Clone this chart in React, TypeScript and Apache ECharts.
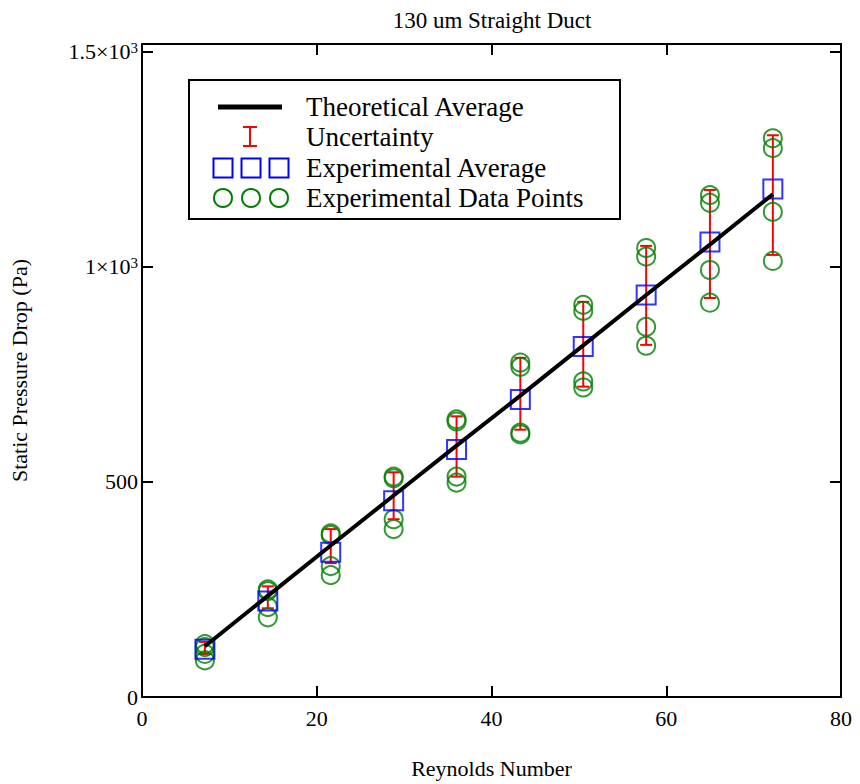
import React, { useEffect, useRef } from "react";
import * as echarts from "echarts";

const reynolds = [7.2, 14.4, 21.6, 28.8, 36.0, 43.3, 50.5, 57.7, 65.0, 72.2];
const theoretical = [118, 235, 352, 468, 584, 700, 817, 934, 1051, 1168];
const expAverage = [111, 223, 336, 456, 575, 691, 814, 934, 1057, 1180];
const uncLow = [100, 206, 311, 413, 512, 621, 721, 818, 927, 1027];
const uncHigh = [128, 257, 390, 522, 652, 788, 918, 1048, 1178, 1305];
const expPoint1 = [123, 250, 380, 512, 645, 777, 911, 1043, 1166, 1298];
const expPoint2 = [116, 246, 376, 508, 640, 767, 897, 1023, 1148, 1275];
const expPoint3 = [100, 209, 304, 413, 512, 614, 733, 860, 992, 1127];
const expPoint4 = [85, 185, 283, 390, 498, 610, 719, 816, 916, 1013];
const yTickLabels: Record<number, string> = {
  0: "{b|0}",
  500: "{b|500}",
  1000: "{b|1×10}{s|3}",
  1500: "{b|1.5×10}{s|3}",
};

const FONT = "'Liberation Serif', 'Times New Roman', serif";

export default function App() {
  const ref = useRef<HTMLDivElement>(null);
  useEffect(() => {
    if (!ref.current) return;
    const chart = echarts.init(ref.current, null, { renderer: "svg" });
    const scatterData: number[][] = [];
    [expPoint1, expPoint2, expPoint3, expPoint4].forEach((arr) =>
      arr.forEach((v, i) => scatterData.push([reynolds[i], v]))
    );
    const yLabel = (v: number) => yTickLabels[v] ?? "";
    const axisLine = () => ({ show: true, onZero: false, lineStyle: { color: "#000", width: 2 } });
    const tick = () => ({ show: true, inside: true, length: 11, lineStyle: { color: "#000", width: 2 } });
    const legendX = 189;
    const legendY = 80;
    const rows = [107, 137, 168, 198];
    chart.setOption({
      animation: false,
      backgroundColor: "#fff",
      textStyle: { fontFamily: FONT },
      title: {
        text: "130 um Straight Duct",
        left: 492,
        top: 9,
        padding: 0,
        textAlign: "center",
        textStyle: { fontFamily: FONT, fontSize: 23, fontWeight: "normal", color: "#000" },
      },
      grid: { left: 142, right: 19, top: 44, bottom: 86 },
      xAxis: [
        {
          type: "value",
          min: 0,
          max: 80,
          interval: 20,
          position: "bottom",
          name: "Reynolds Number",
          nameLocation: "middle",
          nameGap: 60,
          nameTextStyle: { fontFamily: FONT, fontSize: 22, color: "#000" },
          axisLine: axisLine(),
          axisTick: tick(),
          axisLabel: { margin: 10, fontFamily: FONT, fontSize: 22, color: "#000" },
          splitLine: { show: false },
        },
        {
          type: "value",
          min: 0,
          max: 80,
          interval: 20,
          position: "top",
          axisLine: axisLine(),
          axisTick: tick(),
          axisLabel: { show: false },
          splitLine: { show: false },
        },
      ],
      yAxis: [
        {
          type: "value",
          min: 0,
          max: 1517,
          interval: 500,
          position: "left",
          name: "Static Pressure Drop (Pa)",
          nameLocation: "middle",
          nameGap: 112,
          nameRotate: 90,
          nameTextStyle: { fontFamily: FONT, fontSize: 22, color: "#000" },
          axisLine: axisLine(),
          axisTick: tick(),
          axisLabel: {
            margin: 4,
            formatter: yLabel,
            rich: {
              b: { fontFamily: FONT, fontSize: 22, color: "#000", lineHeight: 22 },
              s: { fontFamily: FONT, fontSize: 15, color: "#000", verticalAlign: "top", lineHeight: 15, padding: [0, 0, 10, 0] },
            },
          },
          splitLine: { show: false },
        },
        {
          type: "value",
          min: 0,
          max: 1517,
          interval: 500,
          position: "right",
          axisLine: axisLine(),
          axisTick: tick(),
          axisLabel: { show: false },
          splitLine: { show: false },
        },
      ],
      series: [
        {
          name: "Uncertainty",
          type: "custom",
          z: 2,
          data: reynolds.map((x, i) => [x, uncLow[i], uncHigh[i]]),
          renderItem: (params: any, api: any) => {
            const x = api.value(0);
            const lo = api.coord([x, api.value(1)]);
            const hi = api.coord([x, api.value(2)]);
            const w = 6;
            const style = { stroke: "#ff0000", lineWidth: 2 };
            return {
              type: "group",
              children: [
                { type: "line", shape: { x1: lo[0], y1: lo[1], x2: hi[0], y2: hi[1] }, style },
                { type: "line", shape: { x1: lo[0] - w, y1: lo[1], x2: lo[0] + w, y2: lo[1] }, style },
                { type: "line", shape: { x1: hi[0] - w, y1: hi[1], x2: hi[0] + w, y2: hi[1] }, style },
              ],
            };
          },
        },
        {
          name: "Experimental Data Points",
          type: "scatter",
          z: 3,
          symbol: "circle",
          symbolSize: 18,
          itemStyle: { color: "none", borderColor: "#008000", borderWidth: 2 },
          data: scatterData,
        },
        {
          name: "Experimental Average",
          type: "scatter",
          z: 4,
          symbol: "rect",
          symbolSize: 19,
          itemStyle: { color: "none", borderColor: "#0000ff", borderWidth: 2 },
          data: reynolds.map((x, i) => [x, expAverage[i]]),
        },
        {
          name: "Theoretical Average",
          type: "line",
          z: 5,
          symbol: "none",
          lineStyle: { color: "#000", width: 4 },
          data: reynolds.map((x, i) => [x, theoretical[i]]),
        },
      ],
      graphic: [
        {
          type: "rect",
          shape: { x: legendX, y: legendY, width: 431, height: 139 },
          style: { fill: "#fff", stroke: "#000", lineWidth: 2 },
          z: 10,
        },
        {
          type: "line",
          shape: { x1: 218, y1: rows[0], x2: 282, y2: rows[0] },
          style: { stroke: "#000", lineWidth: 5 },
          z: 11,
        },
        {
          type: "line",
          shape: { x1: 250, y1: rows[1] - 10, x2: 250, y2: rows[1] + 9 },
          style: { stroke: "#ff0000", lineWidth: 2 },
          z: 11,
        },
        {
          type: "line",
          shape: { x1: 243, y1: rows[1] - 10, x2: 257, y2: rows[1] - 10 },
          style: { stroke: "#ff0000", lineWidth: 2 },
          z: 11,
        },
        {
          type: "line",
          shape: { x1: 243, y1: rows[1] + 9, x2: 257, y2: rows[1] + 9 },
          style: { stroke: "#ff0000", lineWidth: 2 },
          z: 11,
        },
        ...[223, 251, 279].map((cx) => ({
          type: "rect",
          shape: { x: cx - 9.5, y: rows[2] - 9.5, width: 19, height: 19 },
          style: { fill: "none", stroke: "#0000ff", lineWidth: 2 },
          z: 11,
        })),
        ...[223, 251, 279].map((cx) => ({
          type: "circle",
          shape: { cx, cy: rows[3], r: 9 },
          style: { fill: "none", stroke: "#008000", lineWidth: 2 },
          z: 11,
        })),
        ...[
          "Theoretical Average",
          "Uncertainty",
          "Experimental Average",
          "Experimental Data Points",
        ].map((t, i) => ({
          type: "text",
          x: 306,
          y: rows[i],
          style: {
            text: t,
            fontFamily: FONT,
            fontSize: 27,
            fill: "#000",
            verticalAlign: "middle",
            align: "left",
          },
          z: 11,
        })),
      ],
    });
    return () => chart.dispose();
  }, []);
  return (
    <div
      ref={ref}
      style={{ position: "absolute", left: 0, top: 0, width: 860, height: 784 }}
    />
  );
}
